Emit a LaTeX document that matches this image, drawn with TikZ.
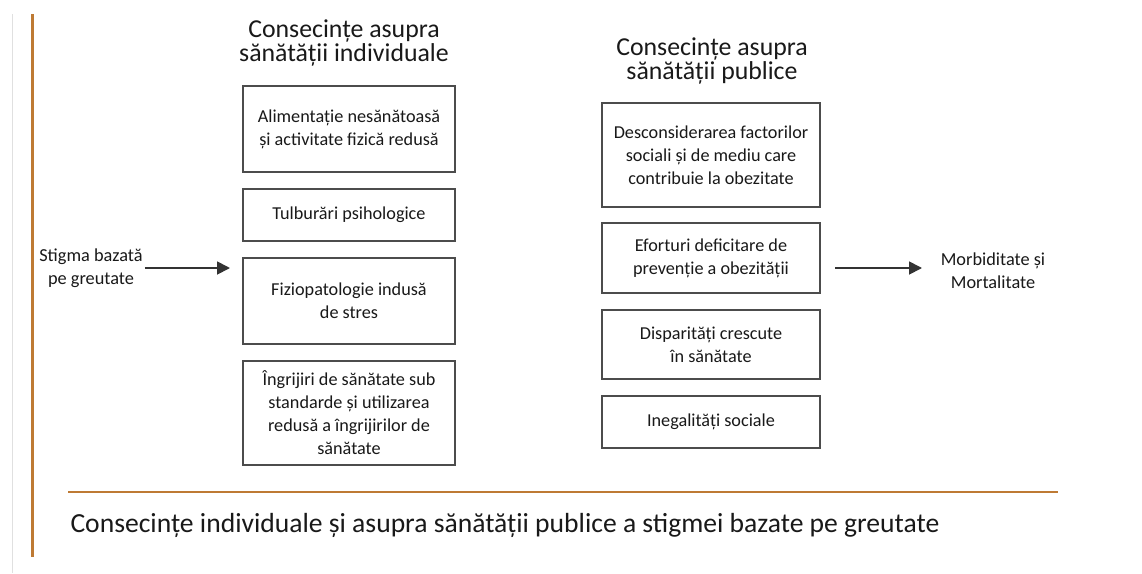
\documentclass[tikz,border=0pt]{standalone}
\usepackage{fontspec}
\setmainfont{Carlito}
\usetikzlibrary{arrows.meta}
\definecolor{rule}{RGB}{190,122,52}
\definecolor{ink}{RGB}{25,25,25}
\tikzset{
  box/.style={draw=black!70, line width=1.4pt, align=center, font=\fontsize{18.2}{23}\selectfont, text=ink, inner sep=2pt},
  title/.style={align=center, font=\fontsize{25.8}{22}\selectfont, text=ink},
  side/.style={align=center, font=\fontsize{18.3}{23}\selectfont, text=ink, inner sep=2pt},
  conn/.style={draw=black!80, line width=1.8pt, -{Triangle[length=13pt,width=13pt]}}
}
\begin{document}
\begin{tikzpicture}[x=1pt,y=-1pt]
\useasboundingbox[fill=white] (0,0) rectangle (1142,573);
% frame lines
\draw[black!12, line width=1pt] (12,14) -- (12,573);
\draw[rule, line width=3pt] (32,14) -- (32,557);
\draw[rule, line width=2.5pt] (68,492) -- (1058,492);
% titles
\node[title] (tl) at (344,43) {Consecințe asupra\\sănătății individuale};
\node[title] (tr) at (712,61) {Consecințe asupra\\sănătății publice};
% left boxes
\node[box, minimum width=212pt, minimum height=86pt] (l1) at (349,129) {Alimentație nesănătoasă\\și activitate fizică redusă};
\node[box, minimum width=212pt, minimum height=52pt] (l2) at (349,215) {Tulburări psihologice};
\node[box, minimum width=212pt, minimum height=86pt] (l3) at (349,301) {Fiziopatologie indusă\\de stres};
\node[box, minimum width=212pt, minimum height=104pt] (l4) at (349,413) {Îngrijiri de sănătate sub\\standarde și utilizarea\\redusă a îngrijirilor de\\sănătate};
% right boxes
\node[box, minimum width=218pt, minimum height=104pt] (r1) at (711,155) {Desconsiderarea factorilor\\sociali și de mediu care\\contribuie la obezitate};
\node[box, minimum width=218pt, minimum height=70pt] (r2) at (711,258) {Eforturi deficitare de\\prevenție a obezității};
\node[box, minimum width=218pt, minimum height=69pt] (r3) at (711,344.5) {Disparități crescute\\în sănătate};
\node[box, minimum width=218pt, minimum height=52pt] (r4) at (711,422) {Inegalități sociale};
% side texts
\node[side] (stig) at (91,268) {Stigma bazată\\pe greutate};
\node[side] (morb) at (993,271) {Morbiditate și\\Mortalitate};
% connectors
\coordinate (a1) at (230,268);
\coordinate (a2) at (835,268);
\draw[conn] (stig.east) -- (a1);
\draw[conn] (a2) -- (922,268) coordinate (a3);
% caption
\node[anchor=west, font=\fontsize{27.6}{30}\selectfont, text=ink] (cap) at (67,525) {Consecințe individuale și asupra sănătății publice a stigmei bazate pe greutate};
\end{tikzpicture}
\end{document}
